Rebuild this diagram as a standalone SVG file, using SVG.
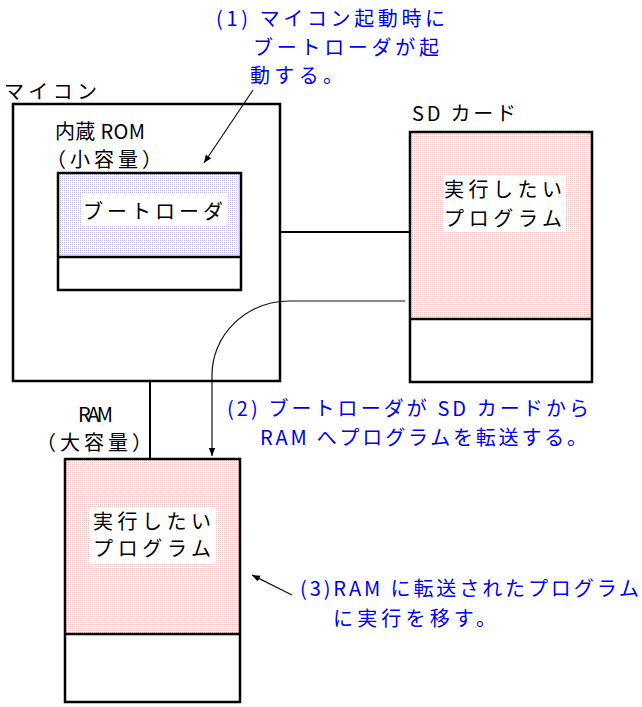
<svg xmlns="http://www.w3.org/2000/svg" width="642" height="707" viewBox="0 0 642 707">
<style>
text{font-family:"Noto Sans CJK JP","Noto Sans CJK SC",sans-serif;font-size:20px;fill:#000}
.blue{fill:#0000f0}
.box{fill:none;stroke:#000;stroke-width:2.5}
.wire{stroke:#000;stroke-width:2;fill:none}
.arr{stroke:#111;stroke-width:1.2;fill:none}
.bg{fill:#fff}
</style>
<defs>
<pattern id="dotBlue" width="2" height="2" patternUnits="userSpaceOnUse">
<rect width="2" height="2" fill="#fff"/><rect width="1" height="1" fill="#c0baf4"/>
</pattern>
<pattern id="dotPink" width="2" height="2" patternUnits="userSpaceOnUse">
<rect width="2" height="2" fill="#fff"/><rect width="1" height="1" fill="#f8c0bc"/>
</pattern>
<marker id="ah" viewBox="0 0 10 10" refX="10" refY="5" markerWidth="8" markerHeight="8" markerUnits="userSpaceOnUse" orient="auto">
<path d="M0,1 L10,5 L0,9 Z" fill="#000"/>
</marker>
</defs>
<rect width="642" height="707" fill="#fff"/>

<g id="microcontroller">
<rect class="box" x="13" y="104" width="267" height="277"/>
<text x="4" y="99" textLength="93" lengthAdjust="spacing">マイコン</text>
</g>

<g id="rom">
<text x="55" y="139" textLength="90" lengthAdjust="spacing">内蔵 ROM</text>
<text x="46" y="167" textLength="116" lengthAdjust="spacing">（小容量）</text>
<rect x="58" y="173" width="183" height="84" fill="url(#dotBlue)"/>
<rect class="bg" x="82" y="193" width="145" height="32"/>
<text x="83" y="219" textLength="140" lengthAdjust="spacing">ブートローダ</text>
<rect class="box" x="58" y="173" width="183" height="117"/>
<line class="box" x1="58" y1="257" x2="241" y2="257"/>
</g>

<g id="sdcard">
<text x="412" y="121" textLength="104" lengthAdjust="spacing">SD カード</text>
<rect x="410" y="132" width="182" height="187" fill="url(#dotPink)"/>
<rect class="bg" x="443" y="175" width="122" height="57"/>
<text x="444" y="197" textLength="118" lengthAdjust="spacing">実行したい</text>
<text x="444" y="226" textLength="118" lengthAdjust="spacing">プログラム</text>
<rect class="box" x="410" y="132" width="182" height="250"/>
<line class="box" x1="410" y1="319" x2="592" y2="319"/>
</g>

<g id="ram">
<text x="78" y="422" textLength="35" lengthAdjust="spacing">RAM</text>
<text x="36" y="450" textLength="116" lengthAdjust="spacing">（大容量）</text>
<rect x="65" y="459" width="175" height="175" fill="url(#dotPink)"/>
<rect class="bg" x="90" y="508" width="125" height="56"/>
<text x="93" y="529" textLength="118" lengthAdjust="spacing">実行したい</text>
<text x="93" y="556" textLength="118" lengthAdjust="spacing">プログラム</text>
<rect class="box" x="65" y="459" width="175" height="243"/>
<line class="box" x1="65" y1="634" x2="240" y2="634"/>
</g>

<g id="connectors">
<line class="wire" x1="280" y1="232" x2="410" y2="232"/>
<line class="wire" x1="150" y1="381" x2="150" y2="459"/>
<path class="arr" d="M405,301 H290 A78,74 0 0 0 212,375 V456" marker-end="url(#ah)"/>
<line class="arr" x1="253" y1="90" x2="204" y2="163" marker-end="url(#ah)"/>
<line class="arr" x1="292" y1="595" x2="252" y2="575" marker-end="url(#ah)"/>
</g>

<g id="notes">
<text class="blue" x="216" y="26" textLength="229" lengthAdjust="spacing">(1) マイコン起動時に</text>
<text class="blue" x="253" y="55" textLength="186" lengthAdjust="spacing">ブートローダが起</text>
<text class="blue" x="250" y="83" textLength="93" lengthAdjust="spacing">動する。</text>
<text class="blue" x="227" y="416" textLength="362" lengthAdjust="spacing">(2) ブートローダが SD カードから</text>
<text class="blue" x="260" y="445" textLength="327" lengthAdjust="spacing">RAM へプログラムを転送する。</text>
<text class="blue" x="300" y="596" textLength="339" lengthAdjust="spacing">(3)RAM に転送されたプログラム</text>
<text class="blue" x="333" y="626" textLength="163" lengthAdjust="spacing">に実行を移す。</text>
</g>
</svg>
